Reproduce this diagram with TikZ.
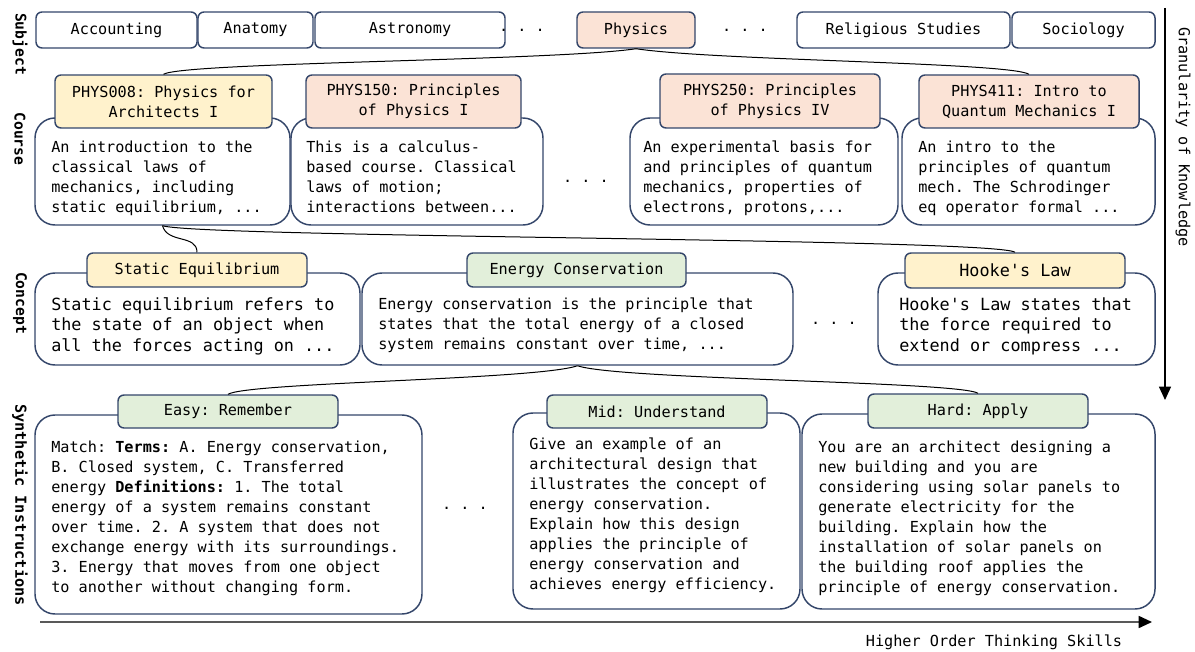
\documentclass[tikz,border=0pt]{standalone}
\usepackage{fontspec}
\setmonofont{DejaVu Sans Mono}
\usetikzlibrary{arrows.meta}
\definecolor{bc}{HTML}{34466A}
\definecolor{yel}{HTML}{FFF2CC}
\definecolor{pch}{HTML}{FBE3D6}
\definecolor{grn}{HTML}{E2EFDA}
\newcommand{\fsA}{\ttfamily\fontsize{11.4}{15}\selectfont}
\newcommand{\fsB}{\ttfamily\fontsize{12.6}{15.4}\selectfont}
\newcommand{\fsL}{\ttfamily\fontsize{11}{14}\selectfont}
\newcommand{\bx}[7]{\node[#2, minimum width={(#5-#3)*0.75pt}, minimum height={(#6-#4)*0.75pt}] (#1) at ({(#3+#5)/2},{(#4+#6)/2}) {#7};}
\begin{document}
\begin{tikzpicture}[x=0.75pt,y=-0.75pt,
  box/.style={draw=bc, line width=1.1pt, inner sep=0pt, align=center, font=\fsA},
  subj/.style={box, fill=white, rounded corners=4.5pt},
  hdr/.style={box, rounded corners=4.5pt},
  desc/.style={box, fill=white, rounded corners=15pt},
  txt/.style={anchor=north west, align=left, inner sep=0pt, font=\fsA},
  txtB/.style={txt, font=\fsB},
  dots/.style={inner sep=0pt, font=\fsA},
  lbl/.style={inner sep=0pt, rotate=-90, font=\fsL\bfseries},
  conn/.style={draw=black, line width=0.75pt}]
\useasboundingbox (0,0) rectangle (1195,652);

% ---------- Subject row
\bx{acc}{subj}{36}{12}{197}{48}{Accounting}
\bx{ana}{subj}{198}{12}{313}{48}{Anatomy}
\bx{ast}{subj}{315}{12}{505}{48}{Astronomy}
\node[dots] (sd1) at (522,30) {.~.~.};
\bx{phy}{subj,fill=pch}{577}{12}{695}{48}{Physics}
\node[dots] (sd2) at (745,30) {.~.~.};
\bx{rel}{subj}{797}{12}{1010}{48}{Religious Studies}
\bx{soc}{subj}{1012}{12}{1155}{48}{Sociology}

% ---------- Course row
\bx{d1}{desc}{35}{118}{290}{225}{}
\bx{d2}{desc}{291}{118}{543}{225}{}
\bx{d3}{desc}{630}{118}{898}{225}{}
\bx{d4}{desc}{902}{118}{1155}{225}{}
\bx{h1}{hdr,fill=yel}{55}{75}{272}{128}{PHYS008: Physics for\\Architects I}
\bx{h2}{hdr,fill=pch}{306}{75}{521}{128}{PHYS150: Principles\\of Physics I}
\bx{h3}{hdr,fill=pch}{660}{74}{880}{128}{PHYS250: Principles\\of Physics IV}
\bx{h4}{hdr,fill=pch}{919}{75}{1139}{128}{PHYS411: Intro to\\Quantum Mechanics I}
\node[txt] (t1) at (51,141) {An introduction to the\\classical laws of\\mechanics, including\\static equilibrium, ...};
\node[txt] (t2) at (306,141) {This is a calculus-\\based course. Classical\\laws of motion;\\interactions between...};
\node[txt] (t3) at (643,141) {An experimental basis for\\and principles of quantum\\mechanics, properties of\\electrons, protons,...};
\node[txt] (t4) at (918,141) {An intro to the\\principles of quantum\\mech. The Schrodinger\\eq operator formal ...};
\node[dots] (cd1) at (586,181) {.~.~.};

% ---------- Concept row
\bx{ds}{desc}{35}{273}{360}{365}{}
\bx{de}{desc}{362}{273}{793}{365}{}
\bx{dh}{desc}{878}{273}{1155}{365}{}
\bx{hs}{hdr,fill=yel}{87}{253}{307}{287}{Static Equilibrium}
\bx{he}{hdr,fill=grn}{467}{253}{686}{287}{Energy Conservation}
\bx{hh}{hdr,fill=yel,font=\fsB}{905}{253}{1125}{288}{Hooke's Law}
\node[txtB] (ts) at (51,297) {Static equilibrium refers to\\the state of an object when\\all the forces acting on ...};
\node[txt] (te) at (378,298) {Energy conservation is the principle that\\states that the total energy of a closed\\system remains constant over time, ...};
\node[txtB] (th) at (899,297) {Hooke's Law states that\\the force required to\\extend or compress ...};
\node[dots] (kd1) at (834,323) {.~.~.};

% ---------- Instruction row
\bx{dE}{desc}{35}{415}{422}{614}{}
\bx{dM}{desc}{513}{413}{800}{609}{}
\bx{dH}{desc}{802}{414}{1155}{609}{}
\bx{hE}{hdr,fill=grn}{118}{395}{338}{428}{Easy: Remember}
\bx{hM}{hdr,fill=grn}{547}{395}{767}{428}{Mid: Understand}
\bx{hH}{hdr,fill=grn}{868}{394}{1088}{428}{Hard: Apply}
\node[txt] (tE) at (51,441) {Match: \textbf{Terms:} A. Energy conservation,\\B. Closed system, C. Transferred\\energy \textbf{Definitions:} 1. The total\\energy of a system remains constant\\over time. 2. A system that does not\\exchange energy with its surroundings.\\3. Energy that moves from one object\\to another without changing form.};
\node[txt] (tM) at (529,438) {Give an example of an\\architectural design that\\illustrates the concept of\\energy conservation.\\Explain how this design\\applies the principle of\\energy conservation and\\achieves energy efficiency.};
\node[txt] (tH) at (818,441) {You are an architect designing a\\new building and you are\\considering using solar panels to\\generate electricity for the\\building. Explain how the\\installation of solar panels on\\the building roof applies the\\principle of energy conservation.};
\node[dots] (id1) at (465,508) {.~.~.};

% ---------- Connectors
\draw[conn] (phy.south) .. controls +(-80,12) and +(20,-12) .. (h1.north);
\draw[conn] (phy.south) .. controls +(80,12) and +(-20,-12) .. (h4.north);
\draw[conn] (d1.south) .. controls +(5,18) and +(0,-18) .. (hs.north);
\draw[conn] (d1.south) .. controls +(40,12) and +(-20,-14) .. (hh.north);
\draw[conn] (de.south) .. controls +(-40,14) and +(20,-12) .. (hE.north);
\draw[conn] (de.south) .. controls +(40,14) and +(-20,-12) .. (hH.north);

% ---------- Axis labels
\node[lbl] (lsub) at (20,44) {Subject};
\node[lbl] (lcou) at (20,139) {Course};
\node[lbl] (lcon) at (20,303) {Concept};
\node[lbl, font=\fsA\bfseries] (lsyn) at (20,505) {Synthetic Instructions};

\coordinate (va1) at (1165,8);
\coordinate (va2) at (1165,400);
\draw[line width=0.9pt, -{Triangle[width=9pt,length=10pt]}] (va1) -- (va2);
\node[inner sep=0pt, rotate=-90, font=\fsA] (gran) at (1183,137) {Granularity of Knowledge};

\coordinate (ha1) at (40,622);
\coordinate (ha2) at (1152,622);
\draw[line width=1.3pt, draw=black!65, -{Triangle[width=9pt,length=10pt,fill=black,color=black]}] (ha1) -- (ha2);
\node[inner sep=0pt, font=\fsA] (hots) at (994,642) {Higher Order Thinking Skills};
\end{tikzpicture}
\end{document}
